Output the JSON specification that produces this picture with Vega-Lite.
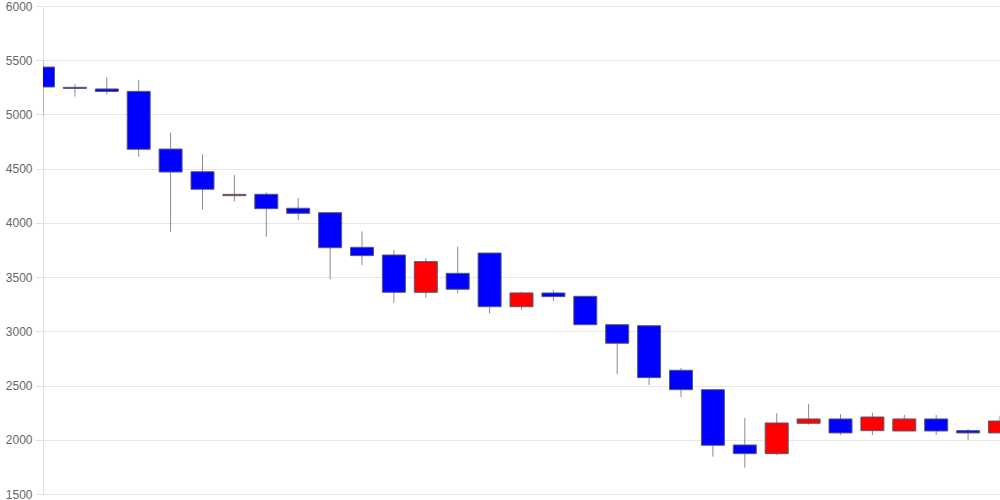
{
  "$schema": "https://vega.github.io/schema/vega-lite/v6.json",
  "width": 957,
  "height": 488,
  "autosize": {"type": "none"},
  "padding": {"left": 43, "top": 6, "right": 0, "bottom": 6},
  "background": "white",
  "config": {
    "view": {"stroke": null},
    "font": "Liberation Sans",
    "axis": {"labelFont": "Liberation Sans"}
  },
  "data": {
    "values": [
      {"i": 1, "open": 5437, "close": 5253, "high": 5484, "low": 4986},
      {"i": 2, "open": 5250, "close": 5240, "high": 5280, "low": 5165},
      {"i": 3, "open": 5235, "close": 5212, "high": 5343, "low": 5182},
      {"i": 4, "open": 5213, "close": 4679, "high": 5318, "low": 4611},
      {"i": 5, "open": 4681, "close": 4469, "high": 4832, "low": 3919},
      {"i": 6, "open": 4472, "close": 4310, "high": 4633, "low": 4122},
      {"i": 7, "open": 4251, "close": 4263, "high": 4442, "low": 4199},
      {"i": 8, "open": 4264, "close": 4131, "high": 4282, "low": 3873},
      {"i": 9, "open": 4135, "close": 4088, "high": 4230, "low": 4027},
      {"i": 10, "open": 4094, "close": 3771, "high": 4094, "low": 3480},
      {"i": 11, "open": 3775, "close": 3698, "high": 3922, "low": 3612},
      {"i": 12, "open": 3704, "close": 3360, "high": 3750, "low": 3261},
      {"i": 13, "open": 3360, "close": 3643, "high": 3674, "low": 3310},
      {"i": 14, "open": 3535, "close": 3388, "high": 3781, "low": 3351},
      {"i": 15, "open": 3722, "close": 3227, "high": 3722, "low": 3166},
      {"i": 16, "open": 3227, "close": 3354, "high": 3366, "low": 3197},
      {"i": 17, "open": 3354, "close": 3320, "high": 3381, "low": 3280},
      {"i": 18, "open": 3323, "close": 3061, "high": 3323, "low": 3061},
      {"i": 19, "open": 3061, "close": 2890, "high": 3061, "low": 2607},
      {"i": 20, "open": 3052, "close": 2573, "high": 3052, "low": 2505},
      {"i": 21, "open": 2641, "close": 2462, "high": 2662, "low": 2392},
      {"i": 22, "open": 2462, "close": 1949, "high": 2462, "low": 1844},
      {"i": 23, "open": 1952, "close": 1872, "high": 2201, "low": 1743},
      {"i": 24, "open": 1872, "close": 2155, "high": 2244, "low": 1860},
      {"i": 25, "open": 2152, "close": 2192, "high": 2330, "low": 2139},
      {"i": 26, "open": 2192, "close": 2063, "high": 2238, "low": 2044},
      {"i": 27, "open": 2084, "close": 2210, "high": 2250, "low": 2044},
      {"i": 28, "open": 2081, "close": 2192, "high": 2229, "low": 2081},
      {"i": 29, "open": 2192, "close": 2081, "high": 2229, "low": 2044},
      {"i": 30, "open": 2084, "close": 2063, "high": 2100, "low": 1998},
      {"i": 31, "open": 2063, "close": 2173, "high": 2220, "low": 2063}
    ]
  },
  "encoding": {
    "x": {
      "field": "i",
      "type": "quantitative",
      "scale": {"domain": [1, 31], "nice": false, "zero": false, "padding": 0},
      "axis": null
    }
  },
  "layer": [
    {
      "mark": {"type": "rule", "color": "#8c8c8c", "strokeWidth": 1, "clip": true},
      "encoding": {
        "y": {
          "field": "low",
          "type": "quantitative",
          "scale": {"domain": [1500, 6000], "nice": false, "zero": false},
          "axis": {
            "title": null,
            "values": [1500, 2000, 2500, 3000, 3500, 4000, 4500, 5000, 5500, 6000],
            "format": "d",
            "grid": true,
            "gridColor": "#e6e6e6",
            "gridWidth": 1,
            "domain": true,
            "domainColor": "#e0e0e0",
            "tickColor": "#e0e0e0",
            "tickSize": 8,
            "labelColor": "#666666",
            "labelFontSize": 12,
            "labelPadding": 3,
            "labelFlush": false
          }
        },
        "y2": {"field": "high"}
      }
    },
    {
      "mark": {"type": "bar", "size": 23, "stroke": "#5a5a6e", "strokeWidth": 1, "clip": true},
      "encoding": {
        "y": {"field": "open", "type": "quantitative"},
        "y2": {"field": "close"},
        "color": {
          "condition": {"test": "datum.close > datum.open", "value": "#ff0000"},
          "value": "#0000ff"
        }
      }
    }
  ]
}
